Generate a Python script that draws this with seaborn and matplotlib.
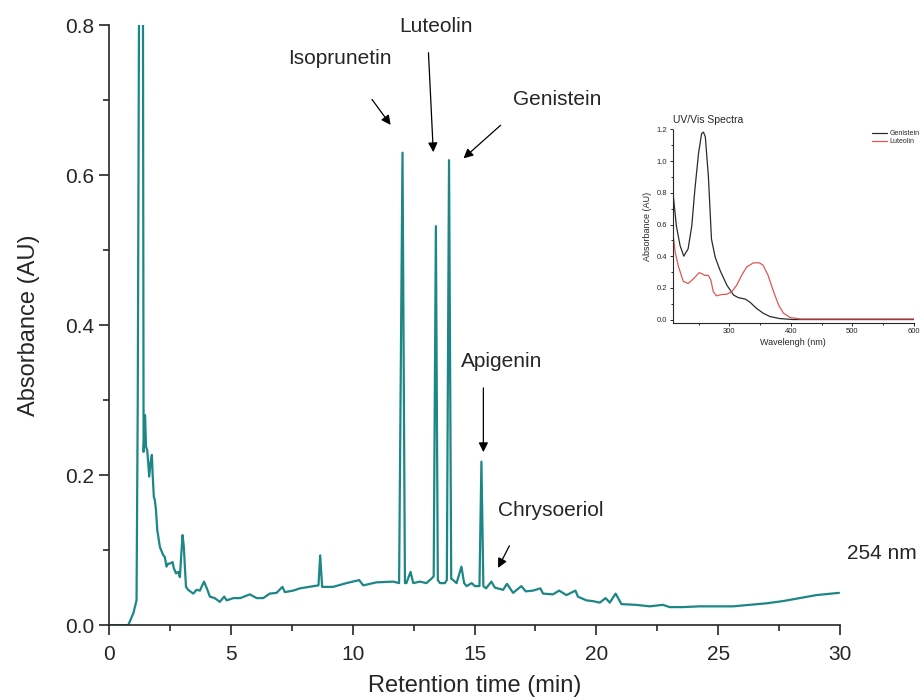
import pandas as pd
import seaborn as sns
import matplotlib
matplotlib.use("Agg")
import matplotlib.pyplot as plt
from matplotlib.ticker import MultipleLocator

# chromatogram at 254 nm, vertices
rt_min = [0.0, 0.78, 0.99, 1.12, 1.17, 1.22, 1.30, 1.385, 1.41, 1.47, 1.51, 1.56, 1.64, 1.70, 1.75,
          1.78, 1.83, 1.87, 1.92, 1.97, 2.08, 2.22, 2.28, 2.35, 2.42, 2.49, 2.60, 2.65, 2.74, 2.83,
          2.90, 2.96, 3.01, 3.06, 3.15, 3.24, 3.45, 3.58, 3.72, 3.89, 4.03, 4.13, 4.33, 4.54, 4.72,
          4.82, 5.10, 5.38, 5.77, 6.05, 6.32, 6.59, 6.87, 7.11, 7.21, 7.55, 7.83, 8.38, 8.59, 8.66,
          8.74, 9.19, 9.74, 10.26, 10.43, 10.97, 11.66, 11.90, 12.04, 12.14, 12.20, 12.37, 12.48,
          12.75, 13.02, 13.23, 13.32, 13.41, 13.49, 13.58, 13.78, 13.86, 13.95, 14.04, 14.12, 14.26,
          14.46, 14.57, 14.67, 14.88, 15.01, 15.20, 15.28, 15.36, 15.47, 15.69, 15.83, 16.17, 16.33,
          16.58, 16.92, 17.10, 17.40, 17.70, 17.81, 18.22, 18.47, 18.77, 19.14, 19.24, 19.59, 19.85,
          20.14, 20.38, 20.55, 20.79, 21.03, 21.64, 22.19, 22.73, 23.01, 23.55, 24.24, 24.92, 25.60,
          26.29, 26.97, 27.66, 28.34, 29.03, 29.96]
absorbance = [0.0, 0.0, 0.016, 0.033, 0.30, 0.80, 1.10, 0.80, 0.231, 0.280, 0.238, 0.233, 0.198,
              0.218, 0.227, 0.202, 0.171, 0.167, 0.153, 0.127, 0.104, 0.093, 0.091, 0.078, 0.082,
              0.082, 0.084, 0.076, 0.069, 0.071, 0.064, 0.096, 0.120, 0.105, 0.051, 0.047, 0.042,
              0.047, 0.046, 0.058, 0.047, 0.038, 0.036, 0.031, 0.038, 0.033, 0.036, 0.036, 0.041,
              0.036, 0.036, 0.042, 0.043, 0.051, 0.044, 0.046, 0.049, 0.052, 0.053, 0.093, 0.051,
              0.051, 0.056, 0.060, 0.053, 0.057, 0.058, 0.056, 0.630, 0.056, 0.056, 0.071, 0.056,
              0.058, 0.056, 0.062, 0.065, 0.532, 0.060, 0.056, 0.056, 0.060, 0.620, 0.062, 0.060,
              0.056, 0.078, 0.056, 0.052, 0.056, 0.052, 0.052, 0.218, 0.052, 0.049, 0.058, 0.050,
              0.047, 0.055, 0.043, 0.052, 0.045, 0.046, 0.049, 0.042, 0.041, 0.046, 0.040, 0.046,
              0.038, 0.033, 0.032, 0.030, 0.036, 0.030, 0.042, 0.028, 0.027, 0.025, 0.027, 0.024,
              0.024, 0.025, 0.025, 0.025, 0.027, 0.029, 0.032, 0.036, 0.040, 0.043]

# UV/Vis spectra (inset)
gen_nm = [208, 214, 220, 226, 233, 239, 244, 250, 255, 258, 261, 266, 271, 277, 285, 296, 307,
          315, 326, 334, 344, 355, 366, 382, 404, 600]
gen_abs = [0.82, 0.59, 0.467, 0.40, 0.446, 0.59, 0.82, 1.05, 1.175, 1.183, 1.154, 0.904, 0.508,
           0.394, 0.31, 0.217, 0.154, 0.138, 0.129, 0.108, 0.071, 0.04, 0.019, 0.006, 0.0, 0.0]
lut_nm = [208, 212, 217, 225, 233, 242, 251, 255, 260, 266, 270, 274, 279, 288, 296, 304, 312,
          320, 328, 339, 349, 355, 363, 372, 380, 388, 399, 415, 600]
lut_abs = [0.56, 0.425, 0.34, 0.242, 0.227, 0.258, 0.296, 0.29, 0.279, 0.279, 0.248, 0.175, 0.15,
           0.158, 0.16, 0.175, 0.217, 0.279, 0.331, 0.358, 0.358, 0.342, 0.279, 0.175, 0.092,
           0.04, 0.0125, 0.004, 0.004]

compounds = ["Isoprunetin", "Luteolin", "Genistein", "Apigenin", "Chrysoeriol"]
label_xy = [(9.46, 0.756), (13.43, 0.798), (18.39, 0.701), (16.10, 0.351), (18.11, 0.153)]
arrow_tip = [(11.62, 0.664), (13.31, 0.627), (14.46, 0.620), (15.36, 0.227), (15.91, 0.073)]
arrow_tail = [(10.72, 0.704), (13.10, 0.767), (16.15, 0.669), (15.36, 0.320), (16.48, 0.109)]

sns.set_style("ticks")
plt.rcParams["font.family"] = ["Liberation Sans", "DejaVu Sans"]

teal = "#1d8686"
fig = plt.figure(figsize=(9.22, 7), dpi=100)
ax = fig.add_axes([0.1185, 0.107, 0.7925, 0.857])

chrom = pd.DataFrame({"t": rt_min, "A": absorbance})
sns.lineplot(data=chrom, x="t", y="A", ax=ax, color=teal, lw=1.6, estimator=None, sort=False)
ax.set_xlim(0, 30)
ax.set_ylim(0, 0.8)
ax.xaxis.set_major_locator(MultipleLocator(5))
ax.xaxis.set_minor_locator(MultipleLocator(2.5))
ax.yaxis.set_major_locator(MultipleLocator(0.2))
ax.yaxis.set_minor_locator(MultipleLocator(0.1))
ax.tick_params(which="major", length=7, width=1.2, labelsize=15, direction="out")
ax.tick_params(which="minor", length=4, width=1.2, direction="out")
ax.tick_params(axis="x", which="major", pad=7)
ax.tick_params(axis="y", which="major", pad=4)
ax.set_xlabel("Retention time (min)", fontsize=17, labelpad=8)
ax.set_ylabel("Absorbance (AU)", fontsize=17, labelpad=18)
for s in ["left", "bottom"]:
    ax.spines[s].set_linewidth(1.2)
sns.despine(ax=ax)

for name, lxy, tip, tail in zip(compounds, label_xy, arrow_tip, arrow_tail):
    ax.text(lxy[0], lxy[1], name, fontsize=15, ha="center", va="center")
    ax.annotate("", xy=tip, xytext=tail,
                arrowprops=dict(arrowstyle="-|>", color="black", lw=0.9, mutation_scale=14))
ax.text(30.29, 0.096, "254 nm", fontsize=15, ha="left", va="center", clip_on=False)

# inset with the UV/Vis spectra
ins = fig.add_axes([0.7296, 0.539, 0.2617, 0.276])
spec = pd.concat([
    pd.DataFrame({"nm": gen_nm, "A": gen_abs, "compound": "Genistein"}),
    pd.DataFrame({"nm": lut_nm, "A": lut_abs, "compound": "Luteolin"}),
])
sns.lineplot(data=spec, x="nm", y="A", hue="compound", ax=ins, estimator=None, sort=False,
             palette={"Genistein": "#2b2b2b", "Luteolin": "#e05656"}, lw=0.9)
ins.set_xlim(208, 600)
ins.set_ylim(-0.02, 1.2)
ins.xaxis.set_major_locator(MultipleLocator(100))
ins.xaxis.set_minor_locator(MultipleLocator(50))
ins.yaxis.set_major_locator(MultipleLocator(0.2))
ins.yaxis.set_minor_locator(MultipleLocator(0.1))
ins.tick_params(which="major", length=2.5, width=0.7, labelsize=5.5, pad=1.5)
ins.tick_params(which="minor", length=1.5, width=0.7)
ins.set_xlabel("Wavelengh (nm)", fontsize=6.5, labelpad=2)
ins.set_ylabel("Absorbance (AU)", fontsize=6.5, labelpad=3)
for s in ["left", "bottom"]:
    ins.spines[s].set_linewidth(0.8)
sns.despine(ax=ins)
ins.set_title("UV/Vis Spectra", fontsize=7.5, loc="left", pad=5)
ins.legend(loc="upper right", bbox_to_anchor=(1.05, 1.03), frameon=False, fontsize=5,
           handlelength=2.2, handletextpad=0.4, labelspacing=0.2, title=None)

fig.savefig("out.png", dpi=100)
